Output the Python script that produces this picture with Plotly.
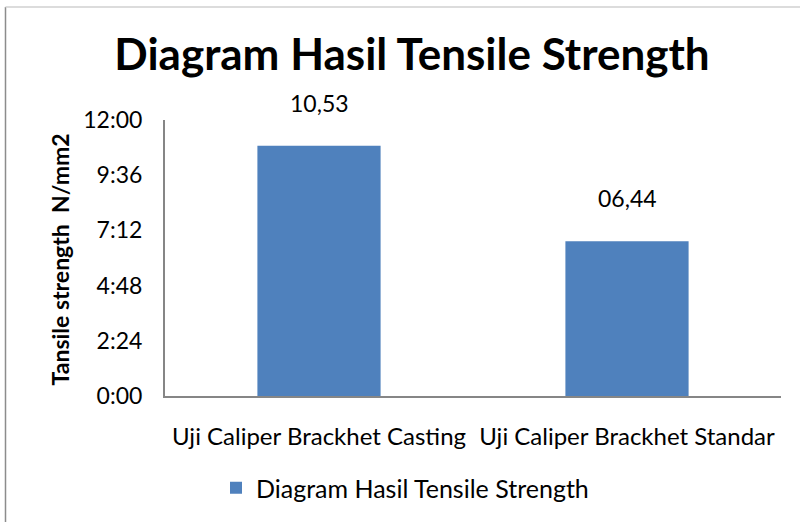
import plotly.graph_objects as go

categories = ["Uji Caliper Brackhet Casting", "Uji Caliper Brackhet Standar"]
values_hours = [10 + 53/60, 6 + 44/60]          # 10:53 and 06:44 (time format)
value_labels = ["10,53", "06,44"]
series_name = "Diagram Hasil Tensile Strength"
y_tickvals = [0, 2.4, 4.8, 7.2, 9.6, 12]
y_ticktext = ["0:00", "2:24", "4:48", "7:12", "9:36", "12:00"]

W, H = 800, 522
L, R, T, B = 165, 19, 120, 125
FONT = "Lato, 'Open Sans', sans-serif"
BAR = "#4F81BD"
AX = "#868686"

def px2x(px):
    return (px - L) / (W - L - R)

def py2y(py):
    return (H - B - py) / (H - T - B)

fig = go.Figure()
fig.add_trace(go.Bar(
    x=categories, y=values_hours, name=series_name,
    marker=dict(color=BAR, line=dict(width=0)),
    width=0.4, showlegend=True, hoverinfo="skip",
))

for c, v, t in zip(categories, values_hours, value_labels):
    fig.add_annotation(x=c, y=v, text=t, showarrow=False, yanchor="middle",
                       yshift=43, font=dict(family=FONT, size=23, color="#000"))

fig.add_annotation(xref="paper", yref="paper", x=px2x(60), y=py2y(260),
                   xanchor="center", yanchor="middle",
                   text="<b>Tansile strength  N/mm2</b>", textangle=-90,
                   showarrow=False, font=dict(family=FONT, size=23, color="#000"))

# chart frame edges
fig.add_shape(type="line", xref="paper", yref="paper",
              x0=px2x(5.5), x1=px2x(5.5), y0=py2y(6.5), y1=py2y(530),
              line=dict(color="#8c8c8c", width=1.5))
fig.add_shape(type="line", xref="paper", yref="paper",
              x0=px2x(5.5), x1=px2x(810), y0=py2y(6.5), y1=py2y(6.5),
              line=dict(color="#d0d0d0", width=1.5))

fig.update_layout(
    width=W, height=H,
    margin=dict(l=L, r=R, t=T, b=B),
    paper_bgcolor="white", plot_bgcolor="white",
    title=dict(text="<b>Diagram Hasil Tensile Strength</b>", x=412/W, xanchor="center",
               y=1 - 55/H, yanchor="middle", font=dict(family=FONT, size=44, color="#000")),
    font=dict(family=FONT, size=22, color="#000"),
    bargap=0.6,
    legend=dict(orientation="h", x=px2x(216), y=py2y(488), xanchor="left", yanchor="middle",
                font=dict(family=FONT, size=25, color="#000"), bgcolor="rgba(0,0,0,0)"),
    xaxis=dict(range=[-0.5, 1.5], showline=True, linecolor=AX, linewidth=2,
               showgrid=False, zeroline=False, ticks="", ticklabelstandoff=18,
               tickfont=dict(family=FONT, size=24, color="#000"), fixedrange=True),
    yaxis=dict(range=[0, 12], tickvals=y_tickvals, ticktext=y_ticktext,
               showline=True, linecolor=AX, linewidth=2, showgrid=False, zeroline=False,
               ticks="", ticklabelstandoff=16,
               tickfont=dict(family=FONT, size=23, color="#000"), fixedrange=True),
)

fig.write_html("out.html", config={"displayModeBar": False},
               post_script="document.body.style.margin='0';")
